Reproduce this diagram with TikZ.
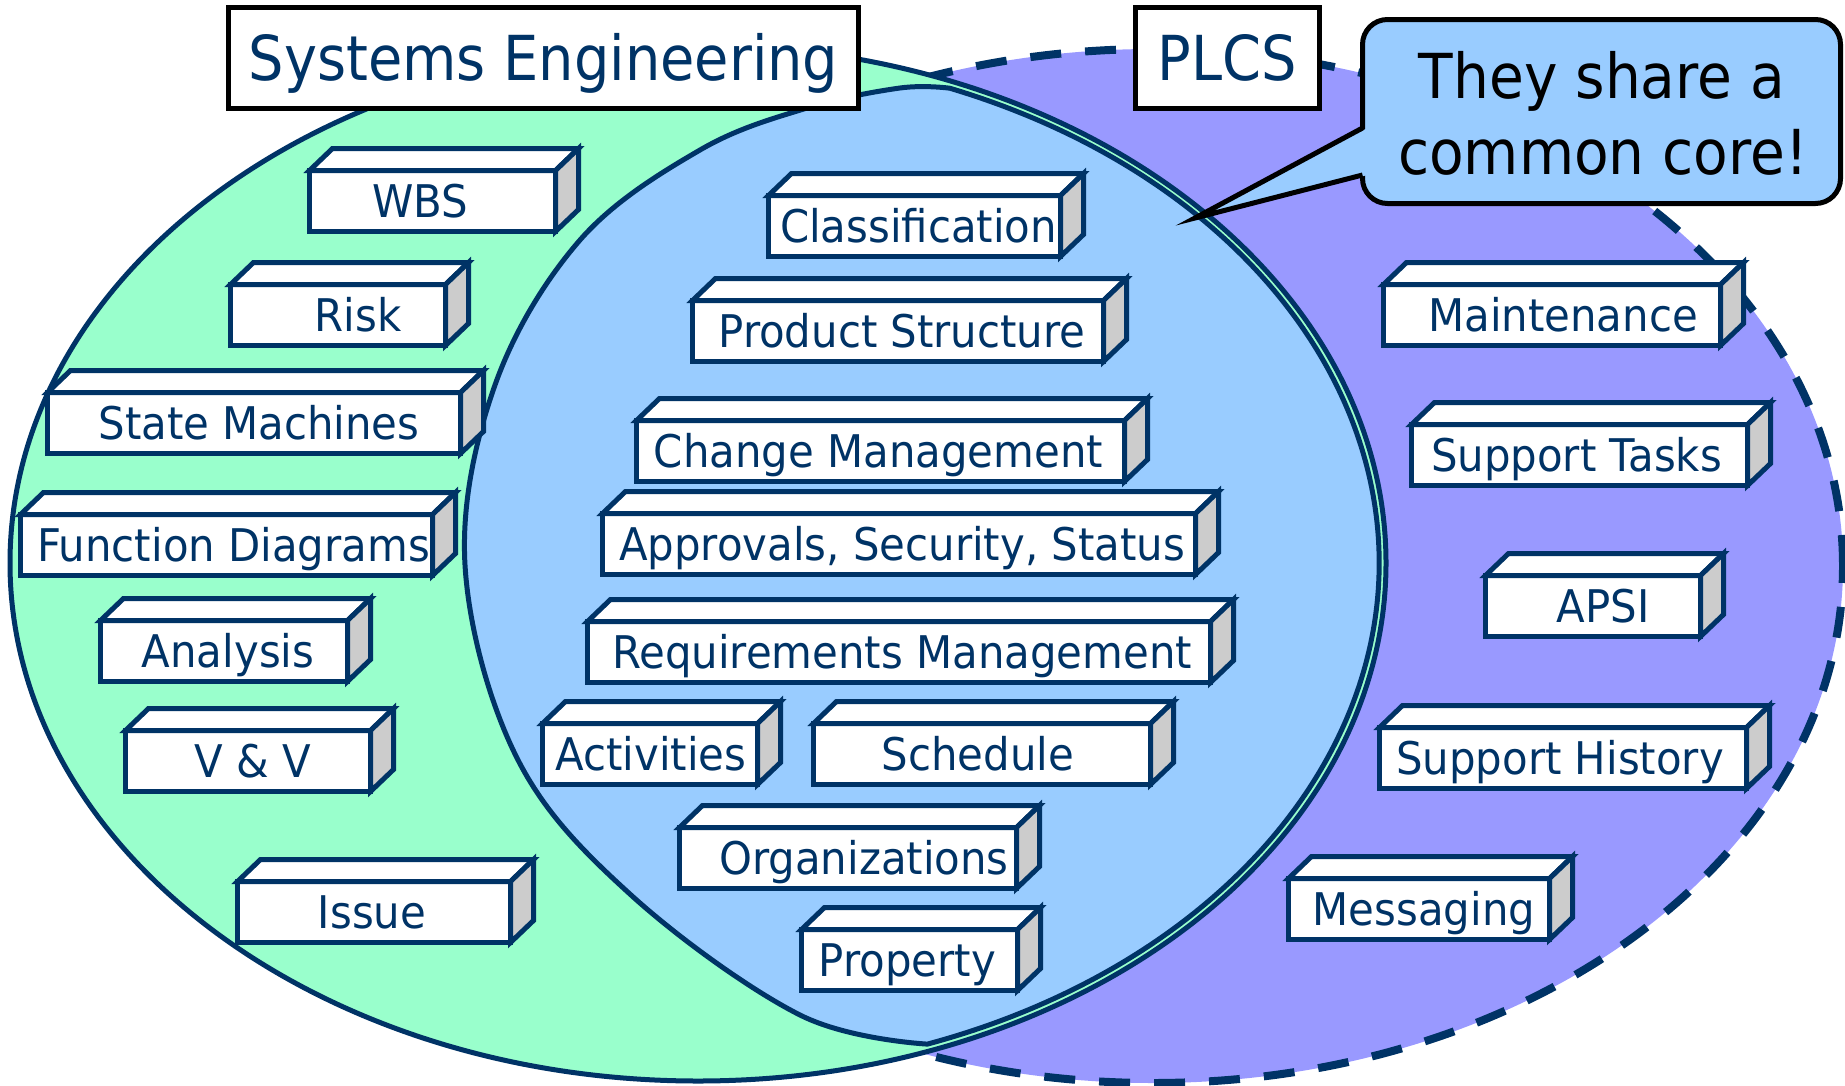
\documentclass[tikz,border=0pt]{standalone}
\usepackage{fontspec}
\setmainfont{DejaVu Sans}[FakeStretch=0.90]
\newfontfamily\boxfam{DejaVu Sans}[FakeStretch=0.93]
\newfontfamily\callfam{DejaVu Sans}[FakeStretch=0.913]
\usetikzlibrary{calc}
\definecolor{navy}{HTML}{003366}
\definecolor{sefill}{HTML}{99FFCC}
\definecolor{corefill}{HTML}{99CCFF}
\definecolor{plcsfill}{HTML}{9999FF}
\definecolor{cubegrey}{HTML}{CCCCCC}
\newcommand{\boxfont}{\boxfam\fontsize{45}{54}\selectfont}
\newcommand{\titlefont}{\fontsize{62}{74}\selectfont}
\newcommand{\callfont}{\callfam\fontsize{62}{74}\selectfont}
\tikzset{
  cubefront/.style={draw=navy, line width=5pt, fill=white, inner sep=0pt, outer sep=0pt,
    minimum height=61pt, text=navy, font=\boxfont, text height=32.8pt, text depth=0pt},
  cubeline/.style={draw=navy, line width=5pt, line join=miter},
  titlebox/.style={draw=black, line width=5pt, fill=white, inner sep=0pt, outer sep=0pt,
    text=navy, font=\titlefont, text height=45.2pt, text depth=0pt, minimum height=101pt},
  calloutbox/.style={draw=black, line width=5pt, fill=corefill, rounded corners=25pt,
    inner sep=0pt, outer sep=0pt, minimum width=478pt, minimum height=184pt},
  callouttext/.style={text=black, font=\callfont, anchor=base, inner sep=0pt},
  ellipseline/.style={draw=navy, line width=5pt},
}
\newcommand{\cubebox}[6]{%
  \node[cubefront, minimum width={(#4-#2-5)*1pt}] (#1) at ({(#2+#4)/2},{#3+33})
    {\makebox[0pt][c]{\hspace*{#5pt}\hspace*{#5pt}#6}};
  \draw[cubeline, fill=white] (#1.north west) -- ++(23,-22) -- ($(#1.north east)+(23,-22)$) -- (#1.north east) -- cycle;
  \draw[cubeline, fill=cubegrey] (#1.north east) -- ++(23,-22) -- ($(#1.south east)+(23,-22)$) -- (#1.south east) -- cycle;
}
\begin{document}
\begin{tikzpicture}[x=1pt, y=-1pt]
\useasboundingbox (0,0) rectangle (1845,1085);
% PLCS ellipse (dashed)
\path[fill=plcsfill] (1153,566) ellipse [x radius=690pt, y radius=517pt];
\draw[navy, line width=8pt, dash pattern=on 31pt off 24pt] (1153,566) ellipse [x radius=690pt, y radius=517pt];
% Systems Engineering ellipse
\draw[ellipseline, fill=sefill] (698,563) ellipse [x radius=688pt, y radius=518pt];
% common core: right side hugs the Systems Engineering ellipse
\draw[ellipseline, fill=corefill, line join=round]
  (949.8,88.2) arc[start angle=68.3, end angle=-70.3, x radius=681pt, y radius=511pt]
  -- plot[smooth, tension=0.6] coordinates {(927.4,1044.1) (800,1015) (631,895) (517,758)
     (465,565) (495,385) (580,240) (700,150) (807,108) (900,88) (949.8,88.2)} -- cycle;
% titles
\node[titlebox, minimum width=630pt] (se) at (543.5,58) {Systems Engineering};
\node[titlebox, minimum width=184pt] (plcs) at (1227.5,58) {PLCS};
% callout
\node[calloutbox] (callout) at (1601.5,111.5) {};
\coordinate (tip) at (1195,218);
\coordinate (pa) at (1362.5,128);
\coordinate (pb) at (1362.5,175);
\fill[corefill] ($(pa)+(5,0)$) -- (tip) -- ($(pb)+(5,0)$) -- cycle;
\draw[black, line width=5pt, line join=miter] (pa) -- (tip) -- (pb);
\node[callouttext] (c1) at (1602,98) {They share a};
\node[callouttext] (c2) at (1603,174) {common core!};
% Systems Engineering items
\cubebox{wbs}{307}{168}{558}{-12}{WBS}
\cubebox{risk}{228}{282}{448}{20}{Risk}
\cubebox{state}{45}{390}{463}{5}{State Machines}
\cubebox{func}{18}{512}{435}{7}{Function Diagrams}
\cubebox{analysis}{98}{618}{350}{4}{Analysis}
\cubebox{vv}{123}{728}{373}{5}{V \& V}
\cubebox{issue}{235}{879}{513}{-2}{Issue}
% core items
\cubebox{class}{766}{193}{1063}{4}{Classification}
\cubebox{prod}{690}{298}{1106}{4}{Product Structure}
\cubebox{change}{634}{418}{1127}{-2}{Change Management}
\cubebox{appr}{600}{511}{1198}{3}{Approvals, Security, Status}
\cubebox{req}{585}{619}{1213}{3}{Requirements Management}
\cubebox{act}{540}{721}{760}{1}{Activities}
\cubebox{sched}{811}{721}{1153}{-4}{Schedule}
\cubebox{org}{677}{825}{1019}{16}{Organizations}
\cubebox{prop}{799}{927}{1020}{-2}{Property}
% PLCS items
\cubebox{maint}{1381}{282}{1723}{11}{Maintenance}
\cubebox{stasks}{1409}{422}{1750}{-3}{Support Tasks}
\cubebox{apsi}{1483}{573}{1703}{10}{APSI}
\cubebox{shist}{1377}{725}{1749}{-3}{Support History}
\cubebox{msg}{1286}{876}{1552}{5}{Messaging}
\end{tikzpicture}
\end{document}
